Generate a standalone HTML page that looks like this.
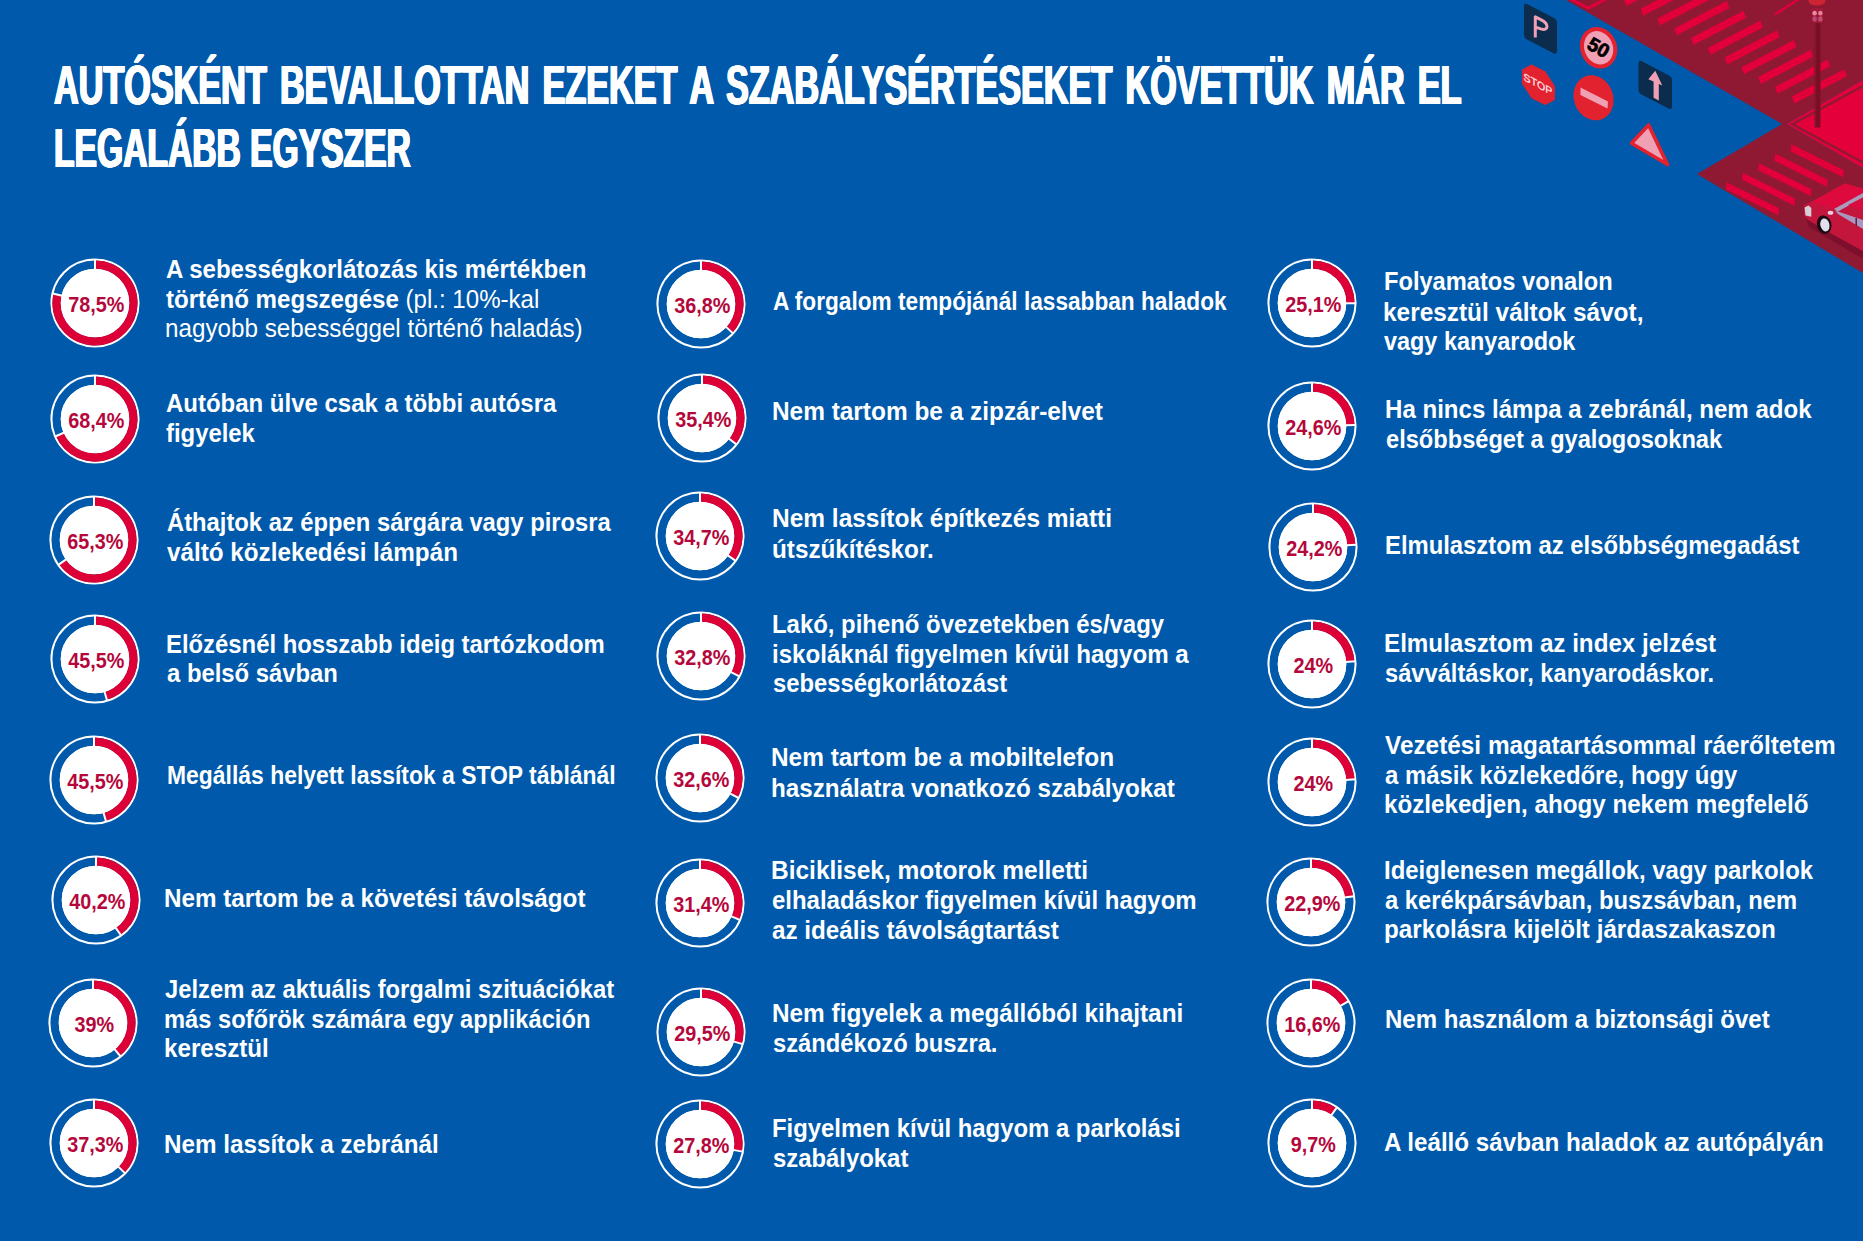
<!DOCTYPE html>
<html><head><meta charset="utf-8"><style>
html,body{margin:0;padding:0}
body{width:1863px;height:1241px;overflow:hidden;position:relative;background:#0059aa;font-family:"Liberation Sans",sans-serif;color:#fff}
.d{position:absolute;overflow:visible}
.pt{font-family:"Liberation Sans",sans-serif;font-weight:bold;font-size:22px;fill:#b5073b}
.l{position:absolute;white-space:nowrap;font-size:25.7px;line-height:29.55px;font-weight:bold;transform-origin:0 0;height:29.55px}
.l .r{font-weight:normal}
.t{position:absolute;white-space:nowrap;font-size:55.2px;line-height:63.48px;font-weight:bold;transform-origin:0 0;letter-spacing:0;text-shadow:1.3px 0 0 #fff,-1.3px 0 0 #fff,0.65px 0 0 #fff,-0.65px 0 0 #fff}
#ill{position:absolute;left:1450px;top:0}
</style></head><body>

<div class="t" id="t0" style="left:54.00px;top:53.53px;word-spacing:6px;transform:scaleX(0.6195)">AUTÓSKÉNT BEVALLOTTAN EZEKET A SZABÁLYSÉRTÉSEKET KÖVETTÜK MÁR EL</div>
<div class="t" id="t1" style="left:54.00px;top:117.43px;word-spacing:0px;transform:scaleX(0.6093)">LEGALÁBB EGYSZER</div>
<div class="l" id="l0" style="left:166.10px;top:254.82px;transform:scaleX(0.9366)">A sebességkorlátozás kis mértékben</div>
<div class="l" id="l1" style="left:166.10px;top:284.52px;transform:scaleX(0.9374)">történő megszegése<span class="r"> (pl.: 10%-kal</span></div>
<div class="l" id="l2" style="left:165.10px;top:314.22px;transform:scaleX(0.9432)"><span class="r">nagyobb sebességgel történő haladás)</span></div>
<div class="l" id="l3" style="left:166.40px;top:388.92px;transform:scaleX(0.9333)">Autóban ülve csak a többi autósra</div>
<div class="l" id="l4" style="left:166.40px;top:418.52px;transform:scaleX(0.9292)">figyelek</div>
<div class="l" id="l5" style="left:166.60px;top:508.12px;transform:scaleX(0.9250)">Áthajtok az éppen sárgára vagy pirosra</div>
<div class="l" id="l6" style="left:166.60px;top:537.82px;transform:scaleX(0.9435)">váltó közlekedési lámpán</div>
<div class="l" id="l7" style="left:165.60px;top:629.92px;transform:scaleX(0.9287)">Előzésnél hosszabb ideig tartózkodom</div>
<div class="l" id="l8" style="left:166.60px;top:659.42px;transform:scaleX(0.9281)">a belső sávban</div>
<div class="l" id="l9" style="left:166.90px;top:761.42px;transform:scaleX(0.8919)">Megállás helyett lassítok a STOP táblánál</div>
<div class="l" id="l10" style="left:163.60px;top:884.22px;transform:scaleX(0.9433)">Nem tartom be a követési távolságot</div>
<div class="l" id="l11" style="left:165.40px;top:975.02px;transform:scaleX(0.9252)">Jelzem az aktuális forgalmi szituációkat</div>
<div class="l" id="l12" style="left:164.40px;top:1005.32px;transform:scaleX(0.9217)">más sofőrök számára egy applikáción</div>
<div class="l" id="l13" style="left:164.40px;top:1034.32px;transform:scaleX(0.9409)">keresztül</div>
<div class="l" id="l14" style="left:164.40px;top:1130.22px;transform:scaleX(0.9431)">Nem lassítok a zebránál</div>
<div class="l" id="l15" style="left:773.20px;top:287.22px;transform:scaleX(0.8819)">A forgalom tempójánál lassabban haladok</div>
<div class="l" id="l16" style="left:772.20px;top:396.72px;transform:scaleX(0.9500)">Nem tartom be a zipzár-elvet</div>
<div class="l" id="l17" style="left:772.20px;top:504.42px;transform:scaleX(0.9528)">Nem lassítok építkezés miatti</div>
<div class="l" id="l18" style="left:772.20px;top:534.52px;transform:scaleX(0.9441)">útszűkítéskor.</div>
<div class="l" id="l19" style="left:772.20px;top:610.02px;transform:scaleX(0.9309)">Lakó, pihenő övezetekben és/vagy</div>
<div class="l" id="l20" style="left:772.20px;top:640.12px;transform:scaleX(0.9387)">iskoláknál figyelmen kívül hagyom a</div>
<div class="l" id="l21" style="left:773.20px;top:669.32px;transform:scaleX(0.9262)">sebességkorlátozást</div>
<div class="l" id="l22" style="left:771.40px;top:743.42px;transform:scaleX(0.9500)">Nem tartom be a mobiltelefon</div>
<div class="l" id="l23" style="left:771.40px;top:773.82px;transform:scaleX(0.9430)">használatra vonatkozó szabályokat</div>
<div class="l" id="l24" style="left:771.40px;top:856.22px;transform:scaleX(0.9531)">Biciklisek, motorok melletti</div>
<div class="l" id="l25" style="left:772.40px;top:885.92px;transform:scaleX(0.9324)">elhaladáskor figyelmen kívül hagyom</div>
<div class="l" id="l26" style="left:772.40px;top:915.52px;transform:scaleX(0.9434)">az ideális távolságtartást</div>
<div class="l" id="l27" style="left:772.20px;top:998.72px;transform:scaleX(0.9477)">Nem figyelek a megállóból kihajtani</div>
<div class="l" id="l28" style="left:773.20px;top:1028.62px;transform:scaleX(0.9250)">szándékozó buszra.</div>
<div class="l" id="l29" style="left:772.20px;top:1114.22px;transform:scaleX(0.9294)">Figyelmen kívül hagyom a parkolási</div>
<div class="l" id="l30" style="left:773.20px;top:1143.82px;transform:scaleX(0.9293)">szabályokat</div>
<div class="l" id="l31" style="left:1383.80px;top:266.92px;transform:scaleX(0.9207)">Folyamatos vonalon</div>
<div class="l" id="l32" style="left:1382.80px;top:297.62px;transform:scaleX(0.9500)">keresztül váltok sávot,</div>
<div class="l" id="l33" style="left:1383.80px;top:326.72px;transform:scaleX(0.9117)">vagy kanyarodok</div>
<div class="l" id="l34" style="left:1384.60px;top:395.02px;transform:scaleX(0.9368)">Ha nincs lámpa a zebránál, nem adok</div>
<div class="l" id="l35" style="left:1385.60px;top:424.92px;transform:scaleX(0.9198)">elsőbbséget a gyalogosoknak</div>
<div class="l" id="l36" style="left:1385.40px;top:531.12px;transform:scaleX(0.9275)">Elmulasztom az elsőbbségmegadást</div>
<div class="l" id="l37" style="left:1383.80px;top:628.52px;transform:scaleX(0.9415)">Elmulasztom az index jelzést</div>
<div class="l" id="l38" style="left:1384.80px;top:658.62px;transform:scaleX(0.9218)">sávváltáskor, kanyarodáskor.</div>
<div class="l" id="l39" style="left:1384.80px;top:731.02px;transform:scaleX(0.9479)">Vezetési magatartásommal ráerőltetem</div>
<div class="l" id="l40" style="left:1384.80px;top:760.62px;transform:scaleX(0.9314)">a másik közlekedőre, hogy úgy</div>
<div class="l" id="l41" style="left:1383.80px;top:790.32px;transform:scaleX(0.9411)">közlekedjen, ahogy nekem megfelelő</div>
<div class="l" id="l42" style="left:1383.80px;top:856.02px;transform:scaleX(0.9304)">Ideiglenesen megállok, vagy parkolok</div>
<div class="l" id="l43" style="left:1384.80px;top:885.62px;transform:scaleX(0.9252)">a kerékpársávban, buszsávban, nem</div>
<div class="l" id="l44" style="left:1383.80px;top:915.02px;transform:scaleX(0.9427)">parkolásra kijelölt járdaszakaszon</div>
<div class="l" id="l45" style="left:1384.80px;top:1004.72px;transform:scaleX(0.9358)">Nem használom a biztonsági övet</div>
<div class="l" id="l46" style="left:1384.30px;top:1128.32px;transform:scaleX(0.9414)">A leálló sávban haladok az autópályán</div>
<svg class="d" style="left:50.0px;top:258.0px" width="90" height="90" viewBox="-45 -45 90 90"><circle r="44.6" fill="#fff"/><circle r="38.4" fill="none" stroke="#0059aa" stroke-width="8.3"/><path d="M0,-38.4 A38.4,38.4 0 1 1 -37.48,-8.38" fill="none" stroke="#dc0036" stroke-width="8.3"/><line x1="0" y1="-33.5" x2="0" y2="-43.5" stroke="#fff" stroke-width="2"/><line x1="-32.69" y1="-7.31" x2="-42.45" y2="-9.49" stroke="#fff" stroke-width="2"/><circle r="34.3" fill="#fff"/><text transform="translate(1.2 8.6) scale(0.9 1)" text-anchor="middle" class="pt">78,5%</text></svg>
<svg class="d" style="left:50.0px;top:374.0px" width="90" height="90" viewBox="-45 -45 90 90"><circle r="44.6" fill="#fff"/><circle r="38.4" fill="none" stroke="#0059aa" stroke-width="8.3"/><path d="M0,-38.4 A38.4,38.4 0 1 1 -35.15,15.47" fill="none" stroke="#dc0036" stroke-width="8.3"/><line x1="0" y1="-33.5" x2="0" y2="-43.5" stroke="#fff" stroke-width="2"/><line x1="-30.66" y1="13.50" x2="-39.81" y2="17.53" stroke="#fff" stroke-width="2"/><circle r="34.3" fill="#fff"/><text transform="translate(1.2 8.6) scale(0.9 1)" text-anchor="middle" class="pt">68,4%</text></svg>
<svg class="d" style="left:49.0px;top:495.0px" width="90" height="90" viewBox="-45 -45 90 90"><circle r="44.6" fill="#fff"/><circle r="38.4" fill="none" stroke="#0059aa" stroke-width="8.3"/><path d="M0,-38.4 A38.4,38.4 0 1 1 -31.49,21.98" fill="none" stroke="#dc0036" stroke-width="8.3"/><line x1="0" y1="-33.5" x2="0" y2="-43.5" stroke="#fff" stroke-width="2"/><line x1="-27.47" y1="19.18" x2="-35.67" y2="24.90" stroke="#fff" stroke-width="2"/><circle r="34.3" fill="#fff"/><text transform="translate(1.2 8.6) scale(0.9 1)" text-anchor="middle" class="pt">65,3%</text></svg>
<svg class="d" style="left:50.0px;top:614.3px" width="90" height="90" viewBox="-45 -45 90 90"><circle r="44.6" fill="#fff"/><circle r="38.4" fill="none" stroke="#0059aa" stroke-width="8.3"/><path d="M0,-38.4 A38.4,38.4 0 0 1 10.71,36.88" fill="none" stroke="#dc0036" stroke-width="8.3"/><line x1="0" y1="-33.5" x2="0" y2="-43.5" stroke="#fff" stroke-width="2"/><line x1="9.35" y1="32.17" x2="12.14" y2="41.77" stroke="#fff" stroke-width="2"/><circle r="34.3" fill="#fff"/><text transform="translate(1.2 8.6) scale(0.9 1)" text-anchor="middle" class="pt">45,5%</text></svg>
<svg class="d" style="left:48.5px;top:735.0px" width="90" height="90" viewBox="-45 -45 90 90"><circle r="44.6" fill="#fff"/><circle r="38.4" fill="none" stroke="#0059aa" stroke-width="8.3"/><path d="M0,-38.4 A38.4,38.4 0 0 1 10.71,36.88" fill="none" stroke="#dc0036" stroke-width="8.3"/><line x1="0" y1="-33.5" x2="0" y2="-43.5" stroke="#fff" stroke-width="2"/><line x1="9.35" y1="32.17" x2="12.14" y2="41.77" stroke="#fff" stroke-width="2"/><circle r="34.3" fill="#fff"/><text transform="translate(1.2 8.6) scale(0.9 1)" text-anchor="middle" class="pt">45,5%</text></svg>
<svg class="d" style="left:50.5px;top:855.4px" width="90" height="90" viewBox="-45 -45 90 90"><circle r="44.6" fill="#fff"/><circle r="38.4" fill="none" stroke="#0059aa" stroke-width="8.3"/><path d="M0,-38.4 A38.4,38.4 0 0 1 22.18,31.35" fill="none" stroke="#dc0036" stroke-width="8.3"/><line x1="0" y1="-33.5" x2="0" y2="-43.5" stroke="#fff" stroke-width="2"/><line x1="19.35" y1="27.35" x2="25.12" y2="35.51" stroke="#fff" stroke-width="2"/><circle r="34.3" fill="#fff"/><text transform="translate(1.2 8.6) scale(0.9 1)" text-anchor="middle" class="pt">40,2%</text></svg>
<svg class="d" style="left:48.3px;top:977.8px" width="90" height="90" viewBox="-45 -45 90 90"><circle r="44.6" fill="#fff"/><circle r="38.4" fill="none" stroke="#0059aa" stroke-width="8.3"/><path d="M0,-38.4 A38.4,38.4 0 0 1 24.48,29.59" fill="none" stroke="#dc0036" stroke-width="8.3"/><line x1="0" y1="-33.5" x2="0" y2="-43.5" stroke="#fff" stroke-width="2"/><line x1="21.35" y1="25.81" x2="27.73" y2="33.52" stroke="#fff" stroke-width="2"/><circle r="34.3" fill="#fff"/><text transform="translate(1.2 8.6) scale(0.9 1)" text-anchor="middle" class="pt">39%</text></svg>
<svg class="d" style="left:48.5px;top:1098.3px" width="90" height="90" viewBox="-45 -45 90 90"><circle r="44.6" fill="#fff"/><circle r="38.4" fill="none" stroke="#0059aa" stroke-width="8.3"/><path d="M0,-38.4 A38.4,38.4 0 0 1 27.49,26.81" fill="none" stroke="#dc0036" stroke-width="8.3"/><line x1="0" y1="-33.5" x2="0" y2="-43.5" stroke="#fff" stroke-width="2"/><line x1="23.98" y1="23.39" x2="31.14" y2="30.37" stroke="#fff" stroke-width="2"/><circle r="34.3" fill="#fff"/><text transform="translate(1.2 8.6) scale(0.9 1)" text-anchor="middle" class="pt">37,3%</text></svg>
<svg class="d" style="left:656.0px;top:259.0px" width="90" height="90" viewBox="-45 -45 90 90"><circle r="44.6" fill="#fff"/><circle r="38.4" fill="none" stroke="#0059aa" stroke-width="8.3"/><path d="M0,-38.4 A38.4,38.4 0 0 1 28.32,25.93" fill="none" stroke="#dc0036" stroke-width="8.3"/><line x1="0" y1="-33.5" x2="0" y2="-43.5" stroke="#fff" stroke-width="2"/><line x1="24.71" y1="22.62" x2="32.08" y2="29.38" stroke="#fff" stroke-width="2"/><circle r="34.3" fill="#fff"/><text transform="translate(1.2 8.6) scale(0.9 1)" text-anchor="middle" class="pt">36,8%</text></svg>
<svg class="d" style="left:657.0px;top:373.0px" width="90" height="90" viewBox="-45 -45 90 90"><circle r="44.6" fill="#fff"/><circle r="38.4" fill="none" stroke="#0059aa" stroke-width="8.3"/><path d="M0,-38.4 A38.4,38.4 0 0 1 30.49,23.34" fill="none" stroke="#dc0036" stroke-width="8.3"/><line x1="0" y1="-33.5" x2="0" y2="-43.5" stroke="#fff" stroke-width="2"/><line x1="26.60" y1="20.37" x2="34.54" y2="26.44" stroke="#fff" stroke-width="2"/><circle r="34.3" fill="#fff"/><text transform="translate(1.2 8.6) scale(0.9 1)" text-anchor="middle" class="pt">35,4%</text></svg>
<svg class="d" style="left:655.2px;top:491.3px" width="90" height="90" viewBox="-45 -45 90 90"><circle r="44.6" fill="#fff"/><circle r="38.4" fill="none" stroke="#0059aa" stroke-width="8.3"/><path d="M0,-38.4 A38.4,38.4 0 0 1 31.49,21.98" fill="none" stroke="#dc0036" stroke-width="8.3"/><line x1="0" y1="-33.5" x2="0" y2="-43.5" stroke="#fff" stroke-width="2"/><line x1="27.47" y1="19.18" x2="35.67" y2="24.90" stroke="#fff" stroke-width="2"/><circle r="34.3" fill="#fff"/><text transform="translate(1.2 8.6) scale(0.9 1)" text-anchor="middle" class="pt">34,7%</text></svg>
<svg class="d" style="left:655.7px;top:610.5px" width="90" height="90" viewBox="-45 -45 90 90"><circle r="44.6" fill="#fff"/><circle r="38.4" fill="none" stroke="#0059aa" stroke-width="8.3"/><path d="M0,-38.4 A38.4,38.4 0 0 1 33.88,18.08" fill="none" stroke="#dc0036" stroke-width="8.3"/><line x1="0" y1="-33.5" x2="0" y2="-43.5" stroke="#fff" stroke-width="2"/><line x1="29.56" y1="15.77" x2="38.38" y2="20.48" stroke="#fff" stroke-width="2"/><circle r="34.3" fill="#fff"/><text transform="translate(1.2 8.6) scale(0.9 1)" text-anchor="middle" class="pt">32,8%</text></svg>
<svg class="d" style="left:655.1px;top:733.0px" width="90" height="90" viewBox="-45 -45 90 90"><circle r="44.6" fill="#fff"/><circle r="38.4" fill="none" stroke="#0059aa" stroke-width="8.3"/><path d="M0,-38.4 A38.4,38.4 0 0 1 34.10,17.65" fill="none" stroke="#dc0036" stroke-width="8.3"/><line x1="0" y1="-33.5" x2="0" y2="-43.5" stroke="#fff" stroke-width="2"/><line x1="29.75" y1="15.40" x2="38.63" y2="19.99" stroke="#fff" stroke-width="2"/><circle r="34.3" fill="#fff"/><text transform="translate(1.2 8.6) scale(0.9 1)" text-anchor="middle" class="pt">32,6%</text></svg>
<svg class="d" style="left:655.1px;top:857.8px" width="90" height="90" viewBox="-45 -45 90 90"><circle r="44.6" fill="#fff"/><circle r="38.4" fill="none" stroke="#0059aa" stroke-width="8.3"/><path d="M0,-38.4 A38.4,38.4 0 0 1 35.34,15.03" fill="none" stroke="#dc0036" stroke-width="8.3"/><line x1="0" y1="-33.5" x2="0" y2="-43.5" stroke="#fff" stroke-width="2"/><line x1="30.83" y1="13.11" x2="40.03" y2="17.02" stroke="#fff" stroke-width="2"/><circle r="34.3" fill="#fff"/><text transform="translate(1.2 8.6) scale(0.9 1)" text-anchor="middle" class="pt">31,4%</text></svg>
<svg class="d" style="left:655.7px;top:987.2px" width="90" height="90" viewBox="-45 -45 90 90"><circle r="44.6" fill="#fff"/><circle r="38.4" fill="none" stroke="#0059aa" stroke-width="8.3"/><path d="M0,-38.4 A38.4,38.4 0 0 1 36.88,10.71" fill="none" stroke="#dc0036" stroke-width="8.3"/><line x1="0" y1="-33.5" x2="0" y2="-43.5" stroke="#fff" stroke-width="2"/><line x1="32.17" y1="9.35" x2="41.77" y2="12.14" stroke="#fff" stroke-width="2"/><circle r="34.3" fill="#fff"/><text transform="translate(1.2 8.6) scale(0.9 1)" text-anchor="middle" class="pt">29,5%</text></svg>
<svg class="d" style="left:654.8px;top:1099.2px" width="90" height="90" viewBox="-45 -45 90 90"><circle r="44.6" fill="#fff"/><circle r="38.4" fill="none" stroke="#0059aa" stroke-width="8.3"/><path d="M0,-38.4 A38.4,38.4 0 0 1 37.81,6.72" fill="none" stroke="#dc0036" stroke-width="8.3"/><line x1="0" y1="-33.5" x2="0" y2="-43.5" stroke="#fff" stroke-width="2"/><line x1="32.98" y1="5.86" x2="42.83" y2="7.61" stroke="#fff" stroke-width="2"/><circle r="34.3" fill="#fff"/><text transform="translate(1.2 8.6) scale(0.9 1)" text-anchor="middle" class="pt">27,8%</text></svg>
<svg class="d" style="left:1267.3px;top:257.7px" width="90" height="90" viewBox="-45 -45 90 90"><circle r="44.6" fill="#fff"/><circle r="38.4" fill="none" stroke="#0059aa" stroke-width="8.3"/><path d="M0,-38.4 A38.4,38.4 0 0 1 38.40,0.24" fill="none" stroke="#dc0036" stroke-width="8.3"/><line x1="0" y1="-33.5" x2="0" y2="-43.5" stroke="#fff" stroke-width="2"/><line x1="33.50" y1="0.21" x2="43.50" y2="0.27" stroke="#fff" stroke-width="2"/><circle r="34.3" fill="#fff"/><text transform="translate(1.2 8.6) scale(0.9 1)" text-anchor="middle" class="pt">25,1%</text></svg>
<svg class="d" style="left:1267.0px;top:380.8px" width="90" height="90" viewBox="-45 -45 90 90"><circle r="44.6" fill="#fff"/><circle r="38.4" fill="none" stroke="#0059aa" stroke-width="8.3"/><path d="M0,-38.4 A38.4,38.4 0 0 1 38.39,-0.96" fill="none" stroke="#dc0036" stroke-width="8.3"/><line x1="0" y1="-33.5" x2="0" y2="-43.5" stroke="#fff" stroke-width="2"/><line x1="33.49" y1="-0.84" x2="43.49" y2="-1.09" stroke="#fff" stroke-width="2"/><circle r="34.3" fill="#fff"/><text transform="translate(1.2 8.6) scale(0.9 1)" text-anchor="middle" class="pt">24,6%</text></svg>
<svg class="d" style="left:1267.7px;top:501.7px" width="90" height="90" viewBox="-45 -45 90 90"><circle r="44.6" fill="#fff"/><circle r="38.4" fill="none" stroke="#0059aa" stroke-width="8.3"/><path d="M0,-38.4 A38.4,38.4 0 0 1 38.35,-1.93" fill="none" stroke="#dc0036" stroke-width="8.3"/><line x1="0" y1="-33.5" x2="0" y2="-43.5" stroke="#fff" stroke-width="2"/><line x1="33.46" y1="-1.68" x2="43.45" y2="-2.19" stroke="#fff" stroke-width="2"/><circle r="34.3" fill="#fff"/><text transform="translate(1.2 8.6) scale(0.9 1)" text-anchor="middle" class="pt">24,2%</text></svg>
<svg class="d" style="left:1267.4px;top:619.0px" width="90" height="90" viewBox="-45 -45 90 90"><circle r="44.6" fill="#fff"/><circle r="38.4" fill="none" stroke="#0059aa" stroke-width="8.3"/><path d="M0,-38.4 A38.4,38.4 0 0 1 38.32,-2.41" fill="none" stroke="#dc0036" stroke-width="8.3"/><line x1="0" y1="-33.5" x2="0" y2="-43.5" stroke="#fff" stroke-width="2"/><line x1="33.43" y1="-2.10" x2="43.41" y2="-2.73" stroke="#fff" stroke-width="2"/><circle r="34.3" fill="#fff"/><text transform="translate(1.2 8.6) scale(0.9 1)" text-anchor="middle" class="pt">24%</text></svg>
<svg class="d" style="left:1267.0px;top:737.2px" width="90" height="90" viewBox="-45 -45 90 90"><circle r="44.6" fill="#fff"/><circle r="38.4" fill="none" stroke="#0059aa" stroke-width="8.3"/><path d="M0,-38.4 A38.4,38.4 0 0 1 38.32,-2.41" fill="none" stroke="#dc0036" stroke-width="8.3"/><line x1="0" y1="-33.5" x2="0" y2="-43.5" stroke="#fff" stroke-width="2"/><line x1="33.43" y1="-2.10" x2="43.41" y2="-2.73" stroke="#fff" stroke-width="2"/><circle r="34.3" fill="#fff"/><text transform="translate(1.2 8.6) scale(0.9 1)" text-anchor="middle" class="pt">24%</text></svg>
<svg class="d" style="left:1266.3px;top:857.3px" width="90" height="90" viewBox="-45 -45 90 90"><circle r="44.6" fill="#fff"/><circle r="38.4" fill="none" stroke="#0059aa" stroke-width="8.3"/><path d="M0,-38.4 A38.4,38.4 0 0 1 38.07,-5.05" fill="none" stroke="#dc0036" stroke-width="8.3"/><line x1="0" y1="-33.5" x2="0" y2="-43.5" stroke="#fff" stroke-width="2"/><line x1="33.21" y1="-4.41" x2="43.12" y2="-5.72" stroke="#fff" stroke-width="2"/><circle r="34.3" fill="#fff"/><text transform="translate(1.2 8.6) scale(0.9 1)" text-anchor="middle" class="pt">22,9%</text></svg>
<svg class="d" style="left:1266.3px;top:978.4px" width="90" height="90" viewBox="-45 -45 90 90"><circle r="44.6" fill="#fff"/><circle r="38.4" fill="none" stroke="#0059aa" stroke-width="8.3"/><path d="M0,-38.4 A38.4,38.4 0 0 1 33.17,-19.34" fill="none" stroke="#dc0036" stroke-width="8.3"/><line x1="0" y1="-33.5" x2="0" y2="-43.5" stroke="#fff" stroke-width="2"/><line x1="28.94" y1="-16.87" x2="37.58" y2="-21.91" stroke="#fff" stroke-width="2"/><circle r="34.3" fill="#fff"/><text transform="translate(1.2 8.6) scale(0.9 1)" text-anchor="middle" class="pt">16,6%</text></svg>
<svg class="d" style="left:1266.7px;top:1098.0px" width="90" height="90" viewBox="-45 -45 90 90"><circle r="44.6" fill="#fff"/><circle r="38.4" fill="none" stroke="#0059aa" stroke-width="8.3"/><path d="M0,-38.4 A38.4,38.4 0 0 1 21.98,-31.49" fill="none" stroke="#dc0036" stroke-width="8.3"/><line x1="0" y1="-33.5" x2="0" y2="-43.5" stroke="#fff" stroke-width="2"/><line x1="19.18" y1="-27.47" x2="24.90" y2="-35.67" stroke="#fff" stroke-width="2"/><circle r="34.3" fill="#fff"/><text transform="translate(1.2 8.6) scale(0.9 1)" text-anchor="middle" class="pt">9,7%</text></svg>
<svg id="ill" width="413" height="290" viewBox="1450 0 413 290"><polygon points="1566.0,0.0 1863.0,0.0 1863.0,80.0 1787.0,124.0 1782.0,124.0" fill="#8f1933"/><polygon points="1697.0,174.0 1782.0,124.0 1787.0,124.0 1863.0,168.0 1863.0,273.0" fill="#8f1933"/><polygon points="1787.0,124.0 1863.0,80.0 1863.0,168.0" fill="#e4003b"/><polyline points="1863.0,86.0 1792.5,124.3 1863.0,162.5" fill="none" stroke="#8f1933" stroke-width="2.4"/><polyline points="1570.0,-1.0 1588.5,8.0 1606.0,-1.0" fill="none" stroke="#e2003a" stroke-width="3"/><polyline points="1799.0,-1.0 1774.6,14.6" fill="none" stroke="#e2003a" stroke-width="2.2"/><polygon points="1590.2,-20.4 1642.7,-47.7 1645.3,-40.8 1592.8,-13.5" fill="#e2003a"/><polygon points="1607.0,-10.7 1659.5,-38.0 1662.1,-31.1 1609.6,-3.8" fill="#e2003a"/><polygon points="1623.8,-0.9 1676.3,-28.2 1678.9,-21.3 1626.4,6.0" fill="#e2003a"/><polygon points="1640.6,8.8 1693.1,-18.5 1695.7,-11.6 1643.2,15.8" fill="#e2003a"/><polygon points="1657.4,18.6 1709.9,-8.7 1712.5,-1.8 1660.0,25.5" fill="#e2003a"/><polygon points="1674.2,28.4 1726.7,1.1 1729.3,8.0 1676.8,35.2" fill="#e2003a"/><polygon points="1691.0,38.1 1743.5,10.8 1746.1,17.7 1693.6,45.0" fill="#e2003a"/><polygon points="1707.8,47.9 1760.3,20.6 1762.9,27.5 1710.4,54.8" fill="#e2003a"/><polygon points="1724.6,57.6 1777.1,30.3 1779.7,37.2 1727.2,64.5" fill="#e2003a"/><polygon points="1741.4,67.3 1793.9,40.0 1796.5,46.9 1744.0,74.2" fill="#e2003a"/><polygon points="1758.2,77.1 1810.7,49.8 1813.3,56.7 1760.8,84.0" fill="#e2003a"/><polygon points="1775.0,86.8 1827.5,59.5 1830.1,66.5 1777.6,93.8" fill="#e2003a"/><polygon points="1791.8,96.6 1844.3,69.3 1846.9,76.2 1794.4,103.5" fill="#e2003a"/><polygon points="1791.4,144.2 1843.9,170.2 1843.1,177.3 1790.6,151.3" fill="#e2003a"/><polygon points="1775.2,153.7 1827.7,179.7 1826.9,186.8 1774.4,160.8" fill="#e2003a"/><polygon points="1759.0,163.2 1811.5,189.2 1810.7,196.3 1758.2,170.3" fill="#e2003a"/><polygon points="1742.8,172.7 1795.3,198.7 1794.5,205.8 1742.0,179.8" fill="#e2003a"/><polygon points="1726.6,182.2 1779.1,208.2 1778.3,215.3 1725.8,189.3" fill="#e2003a"/><rect x="1814.6" y="22" width="5.8" height="104" rx="2" fill="#7a0e24"/><ellipse cx="1817.5" cy="126" rx="3.2" ry="1.6" fill="#7a0e27"/><rect x="1814.6" y="22" width="1.6" height="104" fill="#8a1a34" opacity="0.7"/><ellipse cx="1817" cy="1" rx="8.5" ry="4.5" fill="#cc2432"/><path d="M1811.5,8 L1823,8 L1823,21 Q1817.5,25.5 1812,21 Z" fill="#a0183c"/><ellipse cx="1814.6" cy="13.2" rx="2.2" ry="2.4" fill="#ea8aa2"/><ellipse cx="1820.4" cy="13.2" rx="2.2" ry="2.4" fill="#e88098"/><ellipse cx="1814.6" cy="19" rx="2.2" ry="2.8" fill="#b84878"/><ellipse cx="1820.4" cy="19" rx="2.2" ry="2.8" fill="#bc5068"/><polygon points="1806.0,218.0 1863.0,251.0 1863.0,259.0 1809.0,227.0" fill="#7e0f2c"/><polygon points="1804.0,205.5 1812.0,201.5 1844.6,183.4 1863.0,188.5 1863.0,251.0 1832.0,234.0 1808.0,220.0 1804.0,215.0" fill="#c4163d"/><polygon points="1812.0,202.0 1844.6,183.4 1863.0,188.5 1863.0,193.0 1839.0,206.5 1834.0,209.0" fill="#de0a3d"/><polygon points="1834.0,209.0 1863.0,193.0 1863.0,197.5 1838.0,211.5" fill="#a99cbc"/><polygon points="1848.0,205.0 1863.0,197.5 1863.0,210.0 1857.0,209.0" fill="#d80c3e"/><polygon points="1835.0,210.5 1863.0,220.0 1863.0,229.0 1858.0,226.0 1838.0,214.0" fill="#a898c0"/><line x1="1856.2" y1="218" x2="1856.2" y2="226" stroke="#5a1030" stroke-width="1.4"/><polygon points="1804.6,207.5 1808.5,205.5 1811.3,208.0 1811.3,216.8 1805.5,215.5" fill="#d4d0d8"/><ellipse cx="1830.5" cy="212.7" rx="2.8" ry="2" fill="#e4d4e4"/><ellipse cx="1824.2" cy="224.6" rx="7.2" ry="9.3" transform="rotate(-14 1824.2 224.6)" fill="#1a0a14"/><ellipse cx="1824.9" cy="224.9" rx="4.5" ry="6.6" transform="rotate(-14 1824.9 224.9)" fill="#e2e0ea"/><path d="M1527,4 L1554,18 Q1557,19.5 1557,23 L1557,51 Q1557,55 1553.5,53.3 L1527,39.5 Q1524,38 1524,34.5 L1524,7 Q1524,3 1527,4 Z" fill="#0b2c4c"/><path d="M1535.3,37.5 L1535.3,16.8 L1541.2,19.8 Q1547.2,22.8 1547,26.6 Q1546.8,30.6 1540.8,28.9 L1535.6,27.3" fill="none" stroke="#f0a0b4" stroke-width="3.0" stroke-linejoin="round"/><ellipse cx="1598.6" cy="47.8" rx="18.3" ry="21.2" transform="rotate(-22 1598.6 47.8)" fill="#e3222f"/><ellipse cx="1598.6" cy="47.8" rx="14.2" ry="17" transform="rotate(-22 1598.6 47.8)" fill="#f0a0b4"/><text x="1598.4" y="54.3" text-anchor="middle" transform="rotate(30 1598.6 47.8)" font-family="Liberation Sans" font-weight="bold" font-size="19.5" fill="#000" stroke="#000" stroke-width="0.7">50</text><polygon points="15.9,6.7 6.6,16.3 -6.6,16.3 -15.9,6.7 -15.9,-6.7 -6.6,-16.3 6.6,-16.3 15.9,-6.7" transform="matrix(1 0.5 0 1 1538.4 84.8)" fill="#e3222f" stroke="#e3222f" stroke-width="1.2" stroke-linejoin="round"/><text x="0" y="4" text-anchor="middle" transform="matrix(1 0.55 0 1 1537.9 83.8)" font-family="Liberation Sans" font-size="10.6" fill="#fde4ea" stroke="#fde4ea" stroke-width="0.25">STOP</text><ellipse cx="1593.5" cy="97.8" rx="19.6" ry="23" transform="rotate(-22 1593.5 97.8)" fill="#e3222f"/><polygon points="1580.5,87.5 1608.0,101.5 1607.5,108.5 1580.5,95.0" fill="#f0a0b4"/><path d="M1641.5,61 L1669,75.5 Q1672,77 1672,80.5 L1672,106 Q1672,110 1668.5,108.5 L1641.5,94.5 Q1638.5,93 1638.5,89.5 L1638.5,64 Q1638.5,59.5 1641.5,61 Z" fill="#0b2c4c"/><polygon points="1655.3,70.8 1662.3,85.6 1658.8,84.1 1658.8,100.5 1653.6,97.7 1653.6,81.6 1648.3,79.2" fill="#f0a0b4"/><polygon points="1648.6,125.0 1631.5,143.3 1667.5,164.5" fill="#f0a0b4" stroke="#e3222f" stroke-width="3.6" stroke-linejoin="round"/></svg>
</body></html>
